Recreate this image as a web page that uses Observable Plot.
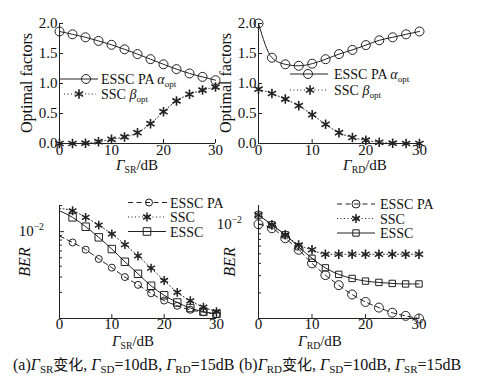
<!DOCTYPE html>
<html><head><meta charset="utf-8">
<script src="https://cdn.jsdelivr.net/npm/d3@7"></script>
<script src="https://cdn.jsdelivr.net/npm/@observablehq/plot@0.6"></script>
<style>
body{margin:0;background:#fff;width:477px;height:378px;position:relative;overflow:hidden;font-family:"Liberation Serif","Times New Roman","Noto Sans CJK SC",serif;color:#111;}
.p{position:absolute;}
.cap{position:absolute;top:354px;font-size:16px;white-space:nowrap;line-height:20px;}
.cap sub{font-size:11px;vertical-align:-3px;line-height:0;}
.cap i{font-style:italic;}
.cjk{font-family:"Noto Sans CJK SC",sans-serif;font-size:15px;}
</style></head><body>
<div id="tl" class="p" style="left:0;top:0"></div>
<div id="tr" class="p" style="left:217px;top:0"></div>
<div id="bl" class="p" style="left:0;top:180px"></div>
<div id="br" class="p" style="left:217px;top:180px"></div>
<div class="cap" style="left:13px">(a)<i>Γ</i><sub>SR</sub><span class="cjk">变化</span>, <i>Γ</i><sub>SD</sub>=10dB, <i>Γ</i><sub>RD</sub>=15dB</div>
<div class="cap" style="left:239px">(b)<i>Γ</i><sub>RD</sub><span class="cjk">变化</span>, <i>Γ</i><sub>SD</sub>=10dB, <i>Γ</i><sub>SR</sub>=15dB</div>
<script>
const FONT = '"Liberation Serif", "Times New Roman", serif';
const ink = "#222";

// ---- data ----
const xdB = [0, 2.5, 5, 7.5, 10, 12.5, 15, 17.5, 20, 22.5, 25, 27.5, 30];
const xTicks = [0, 10, 20, 30];
const yTicksTop = [0, 0.5, 1, 1.5, 2];
const berMinorL = [0.002,0.003,0.004,0.005,0.006,0.007,0.008,0.009,0.02];
const berMinorR = [0.002,0.003,0.004,0.005,0.006,0.007,0.008,0.009];

const alphaSR = [1.867,1.82,1.77,1.71,1.645,1.57,1.49,1.405,1.32,1.24,1.167,1.11,1.055];
const betaSR  = [0.0,0.0,0.005,0.03,0.07,0.11,0.18,0.33,0.53,0.71,0.82,0.89,0.94];
const alphaRD = [2.0,1.43,1.32,1.295,1.33,1.405,1.49,1.56,1.64,1.72,1.77,1.82,1.867];
const betaRD  = [0.905,0.833,0.74,0.63,0.48,0.32,0.18,0.10,0.055,0.02,0.005,0,0];

const berPaSR   = [8.9e-3,7.5e-3,6.2e-3,4.85e-3,3.85e-3,3.0e-3,2.44e-3,1.95e-3,1.61e-3,1.4e-3,1.26e-3,1.18e-3,1.12e-3];
const berSscSR  = [1.85e-2,1.74e-2,1.46e-2,1.19e-2,9.4e-3,7.1e-3,5.25e-3,3.8e-3,2.74e-3,2.0e-3,1.6e-3,1.35e-3,1.2e-3];
const berEsscSR = [1.74e-2,1.46e-2,1.14e-2,8.6e-3,6.3e-3,4.5e-3,3.27e-3,2.38e-3,1.85e-3,1.53e-3,1.32e-3,1.2e-3,1.13e-3];

const berPaRD   = [1.0e-2,9.1e-3,7.2e-3,5.5e-3,4.0e-3,3.04e-3,2.4e-3,1.93e-3,1.62e-3,1.42e-3,1.26e-3,1.17e-3,1.1e-3];
const berSscRD  = [1.24e-2,9.85e-3,7.8e-3,6.15e-3,5.5e-3,4.95e-3,4.95e-3,4.95e-3,4.95e-3,4.95e-3,4.95e-3,4.95e-3,4.95e-3];
const berEsscRD = [1.24e-2,9.85e-3,7.8e-3,5.9e-3,4.5e-3,3.6e-3,3.09e-3,2.81e-3,2.64e-3,2.56e-3,2.5e-3,2.47e-3,2.47e-3];

const rows = ys => xdB.map((x, i) => ({x, y: ys[i]}));

const DASH = "5,3.5", DOT = "1,2.5";

function addLabel(svg, x, y, parts, {size = 15, anchor = "middle", rotate = 0} = {}) {
  const t = d3.select(svg).append("text")
    .attr("transform", `translate(${x},${y}) rotate(${rotate})`)
    .attr("text-anchor", anchor).attr("font-family", FONT)
    .attr("font-size", size).attr("fill", "#111");
  let shift = 0;
  for (const p of parts) {
    const s = t.append("tspan").text(p.t);
    if (p.italic) s.attr("font-style", "italic");
    const want = p.sub ? size * 0.22 : p.sup ? -size * 0.4 : 0;
    if (p.sub || p.sup) s.attr("font-size", size * 0.65);
    if (want !== shift) { s.attr("dy", want - shift); shift = want; }
  }
}

function legend(svg, x1, x2, cx, y, st, textParts, tx, size = 14) {
  const g = d3.select(svg).append("g");
  g.append("line").attr("x1", x1).attr("x2", x2).attr("y1", y).attr("y2", y)
    .attr("stroke", ink).attr("stroke-width", 1).attr("stroke-dasharray", st.dash || null);
  g.append("path").attr("transform", `translate(${cx},${y})`)
    .attr("d", d3.symbol().type(st.sym).size(Math.PI * st.r * st.r)())
    .attr("fill", "none").attr("stroke", ink).attr("stroke-width", st.sw || 1);
  addLabel(svg, tx, y + 5, textParts, {size, anchor: "start"});
}

function panel(id, cfg) {
  const pw = cfg.width - cfg.mL - cfg.mR, ph = cfg.height - cfg.mT - cfg.mB;
  const marks = [
    Plot.ruleX([0], {stroke: ink}),
    Plot.ruleY([cfg.yDomain[0]], {stroke: ink}),
    Plot.tickX(xTicks, {x: d => d, insetTop: ph - 4, stroke: ink}),
    Plot.axisX(xTicks, {tickSize: 0, tickPadding: cfg.tickPadX, fontSize: 15, label: null}),
  ];
  if (cfg.log) {
    marks.push(Plot.tickY(cfg.minor, {y: d => d, insetRight: pw - 3, stroke: ink}));
    marks.push(Plot.tickY([0.01], {y: d => d, insetRight: pw - 5, stroke: ink}));
  } else {
    marks.push(Plot.tickY(yTicksTop, {y: d => d, insetRight: pw - 4, stroke: ink}));
    marks.push(Plot.axisY(yTicksTop, {tickSize: 0, tickPadding: 2, fontSize: 15, tickFormat: d3.format(".1f"), label: null}));
  }
  for (const s of cfg.series) {
    const data = rows(s.ys);
    marks.push(Plot.line(data, {x: "x", y: "y", curve: "monotone-x", stroke: ink, strokeWidth: 1, strokeDasharray: s.dash}));
    marks.push(Plot.dot(data.filter(d => d.x >= cfg.markFrom), {x: "x", y: "y", symbol: s.sym, r: s.r, fill: "none", stroke: ink, strokeWidth: s.sw || 1}));
  }
  const plot = Plot.plot({
    width: cfg.width, height: cfg.height,
    marginLeft: cfg.mL, marginRight: cfg.mR, marginTop: cfg.mT, marginBottom: cfg.mB,
    x: {domain: [0, 30]},
    y: {type: cfg.log ? "log" : "linear", domain: cfg.yDomain, axis: cfg.log ? null : undefined},
    style: {fontFamily: FONT, background: "transparent", overflow: "visible", color: "#111"},
    marks
  });
  document.getElementById(id).appendChild(plot);
  return plot;
}

const stCircle = {sym: d3.symbolCircle, r: 4.5};
const stStar = {sym: d3.symbolAsterisk, r: 4.5, sw: 1.6};
const stSquare = {sym: d3.symbolSquare, r: 4.3};

// Top-left
const tl = panel("tl", {width: 237, height: 180, mL: 59, mR: 22, mT: 23, mB: 37, yDomain: [0, 2], tickPadX: 1, markFrom: 0,
  series: [
    {ys: alphaSR, sym: "circle", r: 4.5},
    {ys: betaSR, sym: "asterisk", r: 4.5, sw: 1.6, dash: DOT}
  ]});
addLabel(tl, 32, 83, [{t: "Optimal factors"}], {size: 16, rotate: -90});
addLabel(tl, 137, 170, [{t: "Γ", italic: true}, {t: "SR", sub: true}, {t: "/dB"}], {size: 15});
legend(tl, 60, 98, 86, 79, stCircle, [{t: "ESSC PA "}, {t: "α", italic: true}, {t: "opt", sub: true}], 101);
legend(tl, 64, 96, 79, 94, {...stStar, dash: DOT}, [{t: "SSC "}, {t: "β", italic: true}, {t: "opt", sub: true}], 101);

// Top-right
const tr = panel("tr", {width: 260, height: 180, mL: 41, mR: 58, mT: 23, mB: 37, yDomain: [0, 2], tickPadX: 1, markFrom: 0,
  series: [
    {ys: alphaRD, sym: "circle", r: 4.5},
    {ys: betaRD, sym: "asterisk", r: 4.5, sw: 1.6, dash: DOT}
  ]});
addLabel(tr, 14, 83, [{t: "Optimal factors"}], {size: 16, rotate: -90});
addLabel(tr, 148, 170, [{t: "Γ", italic: true}, {t: "RD", sub: true}, {t: "/dB"}], {size: 15});
legend(tr, 73, 111, 91, 74, stCircle, [{t: "ESSC PA "}, {t: "α", italic: true}, {t: "opt", sub: true}], 117);
legend(tr, 73, 111, 93, 90, {...stStar, dash: DOT}, [{t: "SSC "}, {t: "β", italic: true}, {t: "opt", sub: true}], 117);

// Bottom-left
const bl = panel("bl", {width: 237, height: 172, mL: 59, mR: 21, mT: 25, mB: 34, yDomain: [1e-3, 2e-2], log: true, minor: berMinorL, tickPadX: 0, markFrom: 2.5,
  series: [
    {ys: berPaSR, sym: "circle", r: 3.5, dash: DASH},
    {ys: berSscSR, sym: "asterisk", r: 4.2, sw: 1.5, dash: DOT},
    {ys: berEsscSR, sym: "square", r: 4.2}
  ]});
addLabel(bl, 44, bl.scale("y").apply(0.01) + 5, [{t: "10"}, {t: "−2", sup: true}], {size: 15, anchor: "end"});
addLabel(bl, 30, 82, [{t: "BER", italic: true}], {size: 16, rotate: -90});
addLabel(bl, 133, 166, [{t: "Γ", italic: true}, {t: "SR", sub: true}, {t: "/dB"}], {size: 15});
legend(bl, 128, 168, 149, 22.5, {sym: d3.symbolCircle, r: 3.5, dash: DASH}, [{t: "ESSC PA"}], 170);
legend(bl, 128, 166, 147, 37, {sym: d3.symbolAsterisk, r: 4.2, sw: 1.5, dash: DOT}, [{t: "SSC"}], 170);
legend(bl, 128, 166, 147, 51.5, stSquare, [{t: "ESSC"}], 170);

// Bottom-right
const br = panel("br", {width: 260, height: 172, mL: 41, mR: 58.5, mT: 25, mB: 34, yDomain: [1.1e-3, 1.55e-2], log: true, minor: berMinorR, tickPadX: 0, markFrom: 0,
  series: [
    {ys: berPaRD, sym: "circle", r: 4.5, dash: DASH},
    {ys: berSscRD, sym: "asterisk", r: 4.5, sw: 1.6, dash: DOT},
    {ys: berEsscRD, sym: "square", r: 3.6}
  ]});
addLabel(br, 25, br.scale("y").apply(0.01) + 5, [{t: "10"}, {t: "−2", sup: true}], {size: 15, anchor: "end"});
addLabel(br, 18, 82, [{t: "BER", italic: true}], {size: 16, rotate: -90});
addLabel(br, 103, 166, [{t: "Γ", italic: true}, {t: "RD", sub: true}, {t: "/dB"}], {size: 15});
legend(br, 120, 158, 139, 24, {sym: d3.symbolCircle, r: 4, dash: DASH}, [{t: "ESSC PA"}], 163);
legend(br, 120, 158, 139, 38.5, {sym: d3.symbolAsterisk, r: 4.2, sw: 1.5, dash: DOT}, [{t: "SSC"}], 163);
legend(br, 120, 158, 139, 53, {sym: d3.symbolSquare, r: 3.6}, [{t: "ESSC"}], 163);
</script>
</body></html>
